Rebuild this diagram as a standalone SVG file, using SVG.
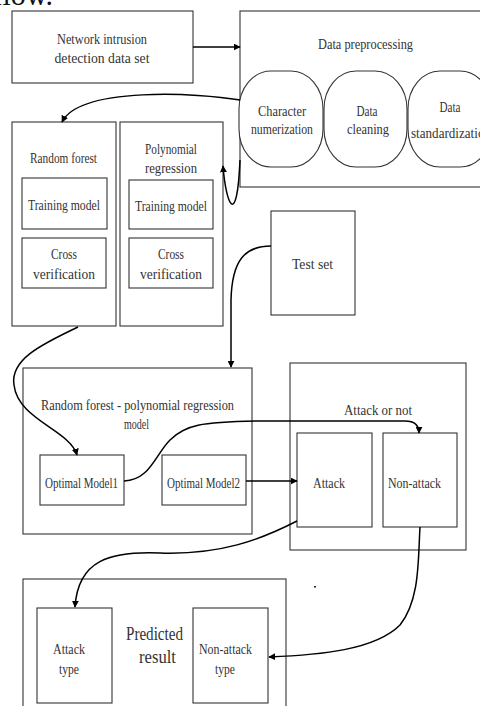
<svg xmlns="http://www.w3.org/2000/svg" width="480" height="706" viewBox="0 0 480 706">
<style>
.box{fill:#fff;stroke:#333;stroke-width:1.1}
.t{font-family:"Liberation Serif","DejaVu Serif",serif;font-size:14.5px;fill:#333;text-anchor:middle}
.big{font-size:18px}
.c{fill:none;stroke:#000;stroke-width:1.5}
</style>
<defs>
<marker id="ah" viewBox="0 0 10 10" refX="9" refY="5" markerWidth="7" markerHeight="7" markerUnits="userSpaceOnUse" orient="auto">
<path d="M0 0 L10 5 L0 10 z" fill="#000"/>
</marker>
</defs>
<rect width="480" height="706" fill="#fff"/>
<text x="53" y="5" style="font-family:'Liberation Serif',serif;font-size:30px;fill:#111;text-anchor:end">flow.</text>

<g id="dataset">
<rect class="box" x="12" y="11" width="181" height="72"/>
<text class="t" x="102" y="43.5" textLength="90" lengthAdjust="spacingAndGlyphs">Network intrusion</text>
<text class="t" x="102" y="62.5" textLength="95" lengthAdjust="spacingAndGlyphs">detection data set</text>
</g>

<g id="preprocessing">
<rect class="box" x="240" y="11" width="260" height="176"/>
<text class="t" x="365.5" y="48.5" textLength="95" lengthAdjust="spacingAndGlyphs">Data preprocessing</text>
<rect class="box" x="239" y="71" width="84" height="96" rx="32" ry="38"/>
<text class="t" x="282" y="115.5" textLength="48" lengthAdjust="spacingAndGlyphs">Character</text>
<text class="t" x="282" y="133.5" textLength="62" lengthAdjust="spacingAndGlyphs">numerization</text>
<rect class="box" x="324" y="71" width="83" height="96" rx="32" ry="38"/>
<text class="t" x="367" y="115.5" textLength="21" lengthAdjust="spacingAndGlyphs">Data</text>
<text class="t" x="368" y="133.5" textLength="42" lengthAdjust="spacingAndGlyphs">cleaning</text>
<rect class="box" x="408" y="71" width="84" height="96" rx="32" ry="38"/>
<text class="t" x="450" y="111.5" textLength="21" lengthAdjust="spacingAndGlyphs">Data</text>
<text class="t" x="451" y="137.5" textLength="80" lengthAdjust="spacingAndGlyphs">standardization</text>
</g>

<g id="randomforest">
<rect class="box" x="12" y="122" width="104" height="204"/>
<text class="t" x="63.5" y="162.5" textLength="67" lengthAdjust="spacingAndGlyphs">Random forest</text>
<rect class="box" x="22" y="178" width="85" height="51"/>
<text class="t" x="64" y="209.5" textLength="72" lengthAdjust="spacingAndGlyphs">Training model</text>
<rect class="box" x="22" y="238" width="84" height="50"/>
<text class="t" x="64" y="258.5" textLength="26" lengthAdjust="spacingAndGlyphs">Cross</text>
<text class="t" x="64" y="278.5" textLength="62" lengthAdjust="spacingAndGlyphs">verification</text>
</g>

<g id="polynomial">
<rect class="box" x="120" y="122" width="103" height="204"/>
<text class="t" x="171" y="153.5" textLength="52" lengthAdjust="spacingAndGlyphs">Polynomial</text>
<text class="t" x="171" y="172.5" textLength="52" lengthAdjust="spacingAndGlyphs">regression</text>
<rect class="box" x="129" y="180" width="84" height="49"/>
<text class="t" x="171" y="210.5" textLength="72" lengthAdjust="spacingAndGlyphs">Training model</text>
<rect class="box" x="129" y="238" width="84" height="50"/>
<text class="t" x="171" y="258.5" textLength="26" lengthAdjust="spacingAndGlyphs">Cross</text>
<text class="t" x="171" y="278.5" textLength="62" lengthAdjust="spacingAndGlyphs">verification</text>
</g>

<g id="testset">
<rect class="box" x="271" y="211" width="84" height="104"/>
<text class="t" x="312.5" y="268.5" textLength="41" lengthAdjust="spacingAndGlyphs">Test set</text>
</g>

<g id="model">
<rect class="box" x="23" y="368" width="229" height="166"/>
<text class="t" x="137.5" y="409.5" textLength="193" lengthAdjust="spacingAndGlyphs">Random forest - polynomial regression</text>
<text class="t" x="136.5" y="428.5" textLength="25" lengthAdjust="spacingAndGlyphs">model</text>
<rect class="box" x="40" y="455" width="84" height="50"/>
<text class="t" x="81.5" y="487.5" textLength="73" lengthAdjust="spacingAndGlyphs">Optimal Model1</text>
<rect class="box" x="162" y="455" width="84" height="50"/>
<text class="t" x="203.5" y="487.5" textLength="73" lengthAdjust="spacingAndGlyphs">Optimal Model2</text>
</g>

<g id="attackornot">
<rect class="box" x="290" y="363" width="176" height="187"/>
<text class="t" x="378" y="414.5" textLength="68" lengthAdjust="spacingAndGlyphs">Attack or not</text>
<rect class="box" x="297" y="433" width="75" height="94"/>
<text class="t" x="329" y="487.5" textLength="32" lengthAdjust="spacingAndGlyphs">Attack</text>
<rect class="box" x="383" y="433" width="74" height="94"/>
<text class="t" x="414.5" y="487.5" textLength="53" lengthAdjust="spacingAndGlyphs">Non-attack</text>
</g>

<g id="predicted">
<rect class="box" x="23" y="579" width="263" height="140"/>
<text class="t big" x="154.5" y="640" textLength="57" lengthAdjust="spacingAndGlyphs">Predicted</text>
<text class="t big" x="157.5" y="663" textLength="37" lengthAdjust="spacingAndGlyphs">result</text>
<rect class="box" x="37" y="608" width="75" height="95"/>
<text class="t" x="69" y="653.5" textLength="32" lengthAdjust="spacingAndGlyphs">Attack</text>
<text class="t" x="69" y="673.5" textLength="20" lengthAdjust="spacingAndGlyphs">type</text>
<rect class="box" x="193" y="608" width="75" height="95"/>
<text class="t" x="225.5" y="653.5" textLength="53" lengthAdjust="spacingAndGlyphs">Non-attack</text>
<text class="t" x="225" y="673.5" textLength="20" lengthAdjust="spacingAndGlyphs">type</text>
</g>

<rect x="314" y="586" width="2" height="1.5" fill="#222"/>

<g id="connectors">
<path class="c" d="M193 47 L240 47" marker-end="url(#ah)"/>
<path class="c" d="M240 100 C200 93, 80 86, 62 122" marker-end="url(#ah)"/>
<path class="c" d="M240 160 C237 230, 226 205, 223 166" marker-end="url(#ah)"/>
<path class="c" d="M78 327 C40 345, 10 360, 14 385 C18 420, 70 430, 77 455" marker-end="url(#ah)"/>
<path class="c" d="M271 246 C245 246, 232 260, 231 300 L231 367" marker-end="url(#ah)"/>
<path class="c" d="M124 481 C150 480, 155 455, 170 440 C185 425, 200 422, 260 421 L405 421 C415 421, 419 425, 419 433" marker-end="url(#ah)"/>
<path class="c" d="M246 481 L297 481" marker-end="url(#ah)"/>
<path class="c" d="M297 521 C260 540, 220 555, 160 553 C110 551, 78 560, 75 607" marker-end="url(#ah)"/>
<path class="c" d="M420 527 C418 560, 420 600, 400 625 C375 650, 320 655, 269 657" marker-end="url(#ah)"/>
</g>
</svg>
